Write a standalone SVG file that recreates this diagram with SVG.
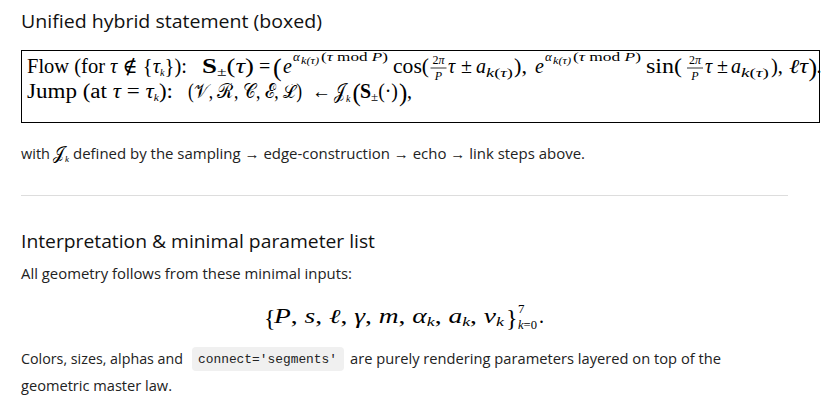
<svg xmlns="http://www.w3.org/2000/svg" width="829" height="407" viewBox="0 0 829 407">
<style>
.h{font-family:"Open Sans","Noto Sans",sans-serif;font-size:18.5px;fill:#111}
.b{font-family:"Open Sans","Noto Sans",sans-serif;font-size:14.5px;fill:#222}
.m{font-family:"Liberation Serif","DejaVu Serif",serif;font-size:20px;fill:#000}
.i{font-style:italic}
.bd{font-weight:bold}
.s{font-size:13px}
.ss{font-size:10px}
.f{font-size:12px}
.c{font-family:"Liberation Mono","DejaVu Sans Mono",monospace;font-size:12.5px;fill:#222}
</style>
<rect width="829" height="407" fill="#fff"/>
<g id="heading1"><text class="h" x="21" y="28" textLength="301" lengthAdjust="spacingAndGlyphs">Unified hybrid statement (boxed)</text></g>
<g id="box">
<rect x="21.5" y="50.5" width="798" height="72" fill="none" stroke="#000" stroke-width="1"/>
<g class="m">
<text x="27" y="73" textLength="160" lengthAdjust="spacingAndGlyphs">Flow (for <tspan class="i">τ</tspan> ∉ {<tspan class="i">τ</tspan><tspan class="ss i" dy="3">k</tspan><tspan dy="-3">}):</tspan></text>
<text x="202" y="73" textLength="52" lengthAdjust="spacingAndGlyphs"><tspan class="bd">S</tspan><tspan class="s" dy="3">±</tspan><tspan dy="-3">(</tspan><tspan class="i">τ</tspan>)</text>
<text x="259" y="73">=</text>
<text x="273" y="76" font-size="26">(</text>
<text x="283" y="73" class="i">e</text>
<text x="293" y="61" class="s i">α</text>
<text x="301" y="64" class="ss i" textLength="18" lengthAdjust="spacingAndGlyphs">k(τ)</text>
<text x="321" y="61" class="s" textLength="67" lengthAdjust="spacingAndGlyphs">(<tspan class="i">τ</tspan> mod <tspan class="i">P</tspan>)</text>
<text x="393" y="73" textLength="36" lengthAdjust="spacingAndGlyphs">cos(</text>
<text x="438.5" y="64" class="f" text-anchor="middle">2<tspan class="i">π</tspan></text>
<line x1="430.5" y1="68" x2="446.5" y2="68" stroke="#000" stroke-width="0.8"/>
<text x="438.5" y="80" class="f i" text-anchor="middle">P</text>
<text x="448" y="73" class="i">τ</text>
<text x="461" y="73">±</text>
<text x="476" y="73" class="i">a</text>
<text x="486" y="77" class="s" textLength="27" lengthAdjust="spacingAndGlyphs"><tspan class="i">k</tspan>(<tspan class="i">τ</tspan>)</text>
<text x="514" y="73" textLength="13" lengthAdjust="spacingAndGlyphs">),</text>
<text x="535" y="73" class="i">e</text>
<text x="545" y="61" class="s i">α</text>
<text x="553" y="64" class="ss i" textLength="18" lengthAdjust="spacingAndGlyphs">k(τ)</text>
<text x="573" y="61" class="s" textLength="68" lengthAdjust="spacingAndGlyphs">(<tspan class="i">τ</tspan> mod <tspan class="i">P</tspan>)</text>
<text x="646" y="73" textLength="36" lengthAdjust="spacingAndGlyphs">sin(</text>
<text x="695" y="64" class="f" text-anchor="middle">2<tspan class="i">π</tspan></text>
<line x1="687" y1="68" x2="703" y2="68" stroke="#000" stroke-width="0.8"/>
<text x="695" y="80" class="f i" text-anchor="middle">P</text>
<text x="705" y="73" class="i">τ</text>
<text x="717" y="73">±</text>
<text x="731" y="73" class="i">a</text>
<text x="741" y="77" class="s" textLength="28" lengthAdjust="spacingAndGlyphs"><tspan class="i">k</tspan>(<tspan class="i">τ</tspan>)</text>
<text x="771" y="73" textLength="12" lengthAdjust="spacingAndGlyphs">),</text>
<text x="789" y="73" class="i" textLength="19" lengthAdjust="spacingAndGlyphs">ℓτ</text>
<text x="808.5" y="76" font-size="26">)</text>
<text x="816.5" y="73">.</text>
<text x="27" y="98" textLength="146" lengthAdjust="spacingAndGlyphs">Jump (at <tspan class="i">τ</tspan> = <tspan class="i">τ</tspan><tspan class="ss i" dy="3">k</tspan><tspan dy="-3">):</tspan></text>
<text x="188" y="98" textLength="114" lengthAdjust="spacingAndGlyphs">(𝒱, ℛ, 𝒞, ℰ, ℒ)</text>
<text x="312" y="98" textLength="19" lengthAdjust="spacingAndGlyphs">←</text>
<text x="333.5" y="98" textLength="11.5" lengthAdjust="spacingAndGlyphs">𝒥</text>
<text x="346" y="102" class="ss i">k</text>
<text x="352.5" y="101" font-size="25">(</text>
<text x="360" y="98" textLength="38" lengthAdjust="spacingAndGlyphs"><tspan class="bd">S</tspan><tspan class="s" dy="3">±</tspan><tspan dy="-3">(·)</tspan></text>
<text x="399" y="101" font-size="25">)</text>
<text x="407" y="98">,</text>
</g>
</g>
<g id="note1">
<text class="b" x="21" y="159">with</text>
<text x="53" y="159" font-family="Liberation Serif,serif" font-size="18" textLength="11" lengthAdjust="spacingAndGlyphs">𝒥</text>
<text x="65" y="162" font-family="Liberation Serif,serif" font-size="9" font-style="italic">k</text>
<text class="b" x="73" y="159" textLength="512" lengthAdjust="spacingAndGlyphs">defined by the sampling → edge-construction → echo → link steps above.</text>
</g>
<line x1="21" y1="195.5" x2="788" y2="195.5" stroke="#ddd" stroke-width="1"/>
<g id="heading2"><text class="h" x="21" y="248" textLength="354" lengthAdjust="spacingAndGlyphs">Interpretation &amp; minimal parameter list</text></g>
<g id="para1"><text class="b" x="21" y="279" textLength="331" lengthAdjust="spacingAndGlyphs">All geometry follows from these minimal inputs:</text></g>
<g id="formula2" class="m">
<text x="264" y="326" font-size="24">{</text>
<text x="274" y="323" textLength="230" lengthAdjust="spacingAndGlyphs"><tspan class="i">P</tspan>,  <tspan class="i">s</tspan>,  <tspan class="i">ℓ</tspan>,  <tspan class="i">γ</tspan>,  <tspan class="i">m</tspan>,  <tspan class="i">α</tspan><tspan class="s i" dy="3">k</tspan><tspan dy="-3">,  </tspan><tspan class="i">a</tspan><tspan class="s i" dy="3">k</tspan><tspan dy="-3">,  </tspan><tspan class="i">v</tspan><tspan class="s i" dy="3">k</tspan></text>
<text x="506" y="326" font-size="24">}</text>
<text x="518" y="313" class="s">7</text>
<text x="518" y="329" class="s" textLength="19" lengthAdjust="spacingAndGlyphs"><tspan class="i">k</tspan>=0</text>
<text x="539" y="323">.</text>
</g>
<g id="para2">
<rect x="192" y="347" width="152" height="24" rx="4" fill="#f0f0f0"/>
<text class="b" x="21" y="364" textLength="162" lengthAdjust="spacingAndGlyphs">Colors, sizes, alphas and</text>
<text class="c" x="198" y="363" textLength="139" lengthAdjust="spacingAndGlyphs">connect='segments'</text>
<text class="b" x="350" y="364" textLength="371" lengthAdjust="spacingAndGlyphs">are purely rendering parameters layered on top of the</text>
<text class="b" x="21" y="391" textLength="151" lengthAdjust="spacingAndGlyphs">geometric master law.</text>
</g>
</svg>
